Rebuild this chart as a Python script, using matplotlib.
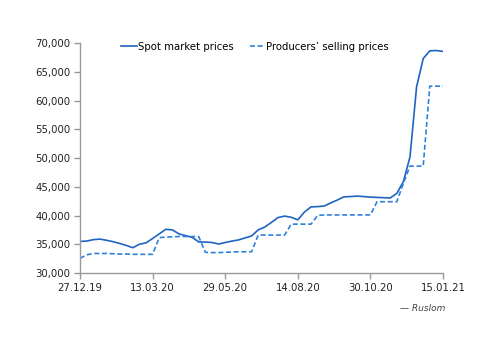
import numpy as np
import matplotlib
matplotlib.use("Agg")
import matplotlib.pyplot as plt
import matplotlib.dates as mdates
import matplotlib.ticker as mticker
import pandas as pd

# Weekly series starting 27.12.19
start_date = "2019-12-27"

spot_prices = [
    35500, 35550, 35800, 35900, 35700, 35450, 35150, 34800, 34400, 35000,
    35250, 36000, 36800, 37600, 37500, 36800, 36500, 36200, 35400, 35400,
    35300, 35050, 35300, 35550, 35750, 36100, 36450, 37500, 38000, 38800,
    39650, 39900, 39700, 39250, 40600, 41500, 41550, 41650, 42200, 42700,
    43250, 43300, 43380, 43300, 43200, 43150, 43100, 43050, 43850, 45900,
    50200, 62400, 67300, 68650, 68700, 68550,
]

producer_prices = [
    32550, 33150, 33400, 33400, 33400, 33350, 33300, 33300, 33250, 33250,
    33250, 33250, 36150, 36250, 36300, 36350, 36350, 36350, 36300, 33600,
    33550, 33550, 33600, 33650, 33700, 33700, 33700, 36600, 36600, 36600,
    36600, 36600, 38500, 38500, 38500, 38500, 40000, 40100, 40100, 40100,
    40100, 40100, 40100, 40100, 40100, 42400, 42400, 42400, 42400, 45600,
    48600, 48600, 48600, 62500, 62500, 62500,
]

dates = pd.date_range(start_date, periods=len(spot_prices), freq="7D")
tick_dates = dates[::11]

fig = plt.figure(figsize=(5, 3.53), dpi=100)
ax = fig.add_axes([0.16, 0.2266, 0.726, 0.6514])

ax.plot(dates, spot_prices, color="#1e64c0", lw=1.2, label="Spot market prices")
ax.plot(dates, producer_prices, color="#2f80dc", lw=1.2, ls=(0, (3, 1.6)),
        label="Producers\u2019 selling prices")

ax.set_xlim(dates[0], dates[-1])
ax.set_ylim(30000, 70000)
ax.set_yticks(np.arange(30000, 70001, 5000))
ax.yaxis.set_major_formatter(mticker.StrMethodFormatter("{x:,.0f}"))
ax.set_xticks(tick_dates)
ax.xaxis.set_major_formatter(mdates.DateFormatter("%d.%m.%y"))

for side in ["top", "right"]:
    ax.spines[side].set_visible(False)
for side in ["left", "bottom"]:
    ax.spines[side].set_color("#999999")
    ax.spines[side].set_linewidth(1)
ax.tick_params(colors="#999999", labelcolor="#222222", labelsize=7.3,
               length=4, width=1, direction="out")
ax.tick_params(axis="x", pad=3)
ax.tick_params(axis="y", pad=3)

ax.legend(loc="upper center", bbox_to_anchor=(0.482, 1.045), ncol=2, frameon=False,
          fontsize=7.3, handlelength=1.5, handletextpad=0.1, columnspacing=1.6)

fig.text(0.89, 0.125, "\u2014 Ruslom", ha="right", va="center",
         fontsize=6.5, style="italic", color="#444444")

fig.savefig("out.png", dpi=100)
